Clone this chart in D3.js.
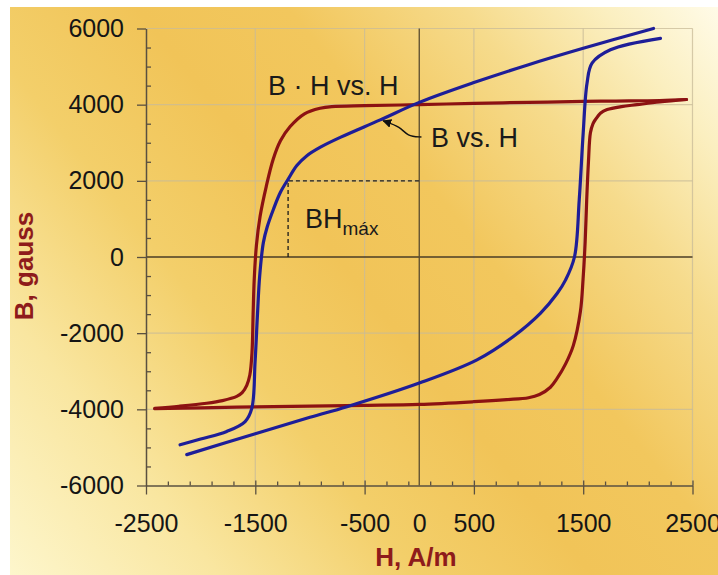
<!doctype html>
<html>
  <head>
    <meta charset="utf-8" />
    <title>B vs. H</title>
    <script src="https://cdn.jsdelivr.net/npm/d3@7"></script>
    <style>
      html,
      body {
        margin: 0;
        padding: 0;
        background: #fff;
        overflow: hidden;
      }
      text {
        font-family: "Liberation Sans", Arial, sans-serif;
      }
    </style>
  </head>
  <body>
    <script>
      // [H (A/m), B (gauss)]
      const redUpper = [
        [2445, 4135], [2200, 4110], [1800, 4095], [1500, 4085], [1000, 4060],
        [500, 4035], [0, 4000], [-500, 3975], [-800, 3950], [-907, 3905],
        [-1050, 3760], [-1181, 3425], [-1270, 3050], [-1337, 2560],
        [-1400, 1850], [-1456, 1070], [-1490, 300], [-1510, -600],
        [-1520, -1500], [-1530, -2500], [-1550, -3100], [-1578, -3370],
        [-1620, -3560], [-1670, -3660], [-1800, -3770], [-1945, -3840],
        [-2200, -3920], [-2420, -3975],
      ];
      const redLower = [
        [-2420, -3985], [-2000, -3960], [-1500, -3935], [-1000, -3915],
        [-500, -3895], [0, -3870], [500, -3800], [800, -3745], [1000, -3695],
        [1100, -3610], [1200, -3420], [1261, -3190], [1340, -2800],
        [1410, -2320], [1474, -1440], [1499, -575], [1518, 400], [1532, 1500],
        [1548, 2500], [1566, 3260], [1590, 3500], [1612, 3610], [1660, 3780],
        [1719, 3870], [1850, 3950], [1993, 4000], [2200, 4070], [2445, 4135],
      ];
      const blueUpper = [
        [2143, 6000], [1500, 5480], [1000, 5050], [500, 4580], [0, 4060],
        [-357, 3600], [-723, 3140], [-900, 2890], [-1028, 2660],
        [-1120, 2400], [-1196, 2060], [-1270, 1700], [-1334, 1255],
        [-1390, 800], [-1426, 384], [-1460, -500], [-1480, -1500],
        [-1502, -2750], [-1532, -3975], [-1593, -4320], [-1761, -4580],
        [-2000, -4780], [-2188, -4930],
      ];
      const blueLower = [
        [-2127, -5190], [-1500, -4640], [-1000, -4210], [-661, -3930],
        [0, -3310], [528, -2700], [864, -2080], [1108, -1480], [1261, -960],
        [1339, -600], [1420, 0], [1464, 1516], [1500, 3260], [1535, 4565],
        [1581, 5090], [1749, 5440], [2207, 5740],
      ];

      const yTicks = [-6000, -4000, -2000, 0, 2000, 4000, 6000];
      const yMinor = d3.range(-5500, 6000, 500).filter((v) => v % 2000 !== 0);
      const xLabels = [-2500, -1500, -500, 0, 500, 1500, 2500];
      const xMajor = [-2500, -1500, -500, 500, 1500, 2500];
      const xMinor = d3.range(-2300, 2500, 200).filter((v) => !xMajor.includes(v));
      const hGrid = [-4000, -2000, 2000, 4000, 6000];
      const vGrid = [-1500, -500, 500, 1500, 2500];

      // BH max corner and arrow for "B vs. H"
      const bhMax = [-1200, 2000];
      const arrowPath = [[20, 3150], [-110, 3170], [-170, 3420], [-330, 3575]];

      const width = 718;
      const height = 575;

      const x = d3.scaleLinear([-2500, 2500], [146, 692.5]);
      const y = d3.scaleLinear([-6000, 6000], [485.5, 28.5]);

      const svg = d3
        .select("body")
        .append("svg")
        .attr("width", width)
        .attr("height", height);

      // background
      const defs = svg.append("defs");
      const grad = defs
        .append("linearGradient")
        .attr("id", "bg")
        .attr("gradientUnits", "userSpaceOnUse")
        .attr("x1", 10)
        .attr("y1", 575)
        .attr("x2", 718)
        .attr("y2", 7);
      [
        [0, "#fdf6cc"],
        [0.18, "#f9e6a0"],
        [0.35, "#f3cf6a"],
        [0.5, "#f1c458"],
        [0.63, "#f2c75d"],
        [0.78, "#f6db8c"],
        [0.9, "#fbefc0"],
        [1, "#fffbe8"],
      ].forEach(([o, c]) => grad.append("stop").attr("offset", o).attr("stop-color", c));

      defs
        .append("marker")
        .attr("id", "arrowhead")
        .attr("viewBox", "0 0 10 10")
        .attr("refX", 9)
        .attr("refY", 5)
        .attr("markerWidth", 9)
        .attr("markerHeight", 9)
        .attr("markerUnits", "userSpaceOnUse")
        .attr("orient", "auto")
        .append("path")
        .attr("d", "M0,0 L10,5 L0,10 Z")
        .attr("fill", "#111");

      svg
        .append("rect")
        .attr("x", 10)
        .attr("y", 7)
        .attr("width", width - 10)
        .attr("height", height - 7)
        .attr("fill", "url(#bg)");

      // grid
      const grid = svg
        .append("g")
        .attr("stroke", "#c8bb98")
        .attr("stroke-opacity", 0.75)
        .attr("stroke-width", 1.2);
      grid
        .selectAll("line.h")
        .data(hGrid)
        .join("line")
        .attr("x1", x(-2500))
        .attr("x2", x(2500))
        .attr("y1", (d) => y(d))
        .attr("y2", (d) => y(d));
      grid
        .selectAll("line.v")
        .data(vGrid)
        .join("line")
        .attr("x1", (d) => x(d))
        .attr("x2", (d) => x(d))
        .attr("y1", y(-6000))
        .attr("y2", y(6000));

      // zero lines
      svg
        .append("line")
        .attr("x1", x(-2500))
        .attr("x2", x(2500))
        .attr("y1", y(0))
        .attr("y2", y(0))
        .attr("stroke", "#4a3d24")
        .attr("stroke-width", 1.3);
      svg
        .append("line")
        .attr("x1", x(0))
        .attr("x2", x(0))
        .attr("y1", y(-6000))
        .attr("y2", y(6000))
        .attr("stroke", "#5a4c30")
        .attr("stroke-width", 1.3);

      // axes
      const fmt = (d) => String(d);
      function styleAxis(g) {
        g.select(".domain").attr("stroke", "#5a5040").attr("stroke-width", 1.5);
        g.selectAll(".tick line").attr("stroke", "#5a5040").attr("stroke-width", 1.3);
        g.selectAll(".tick text")
          .attr("fill", "#151515")
          .attr("font-size", 25)
          .attr("font-family", '"Liberation Sans", Arial, sans-serif');
      }

      svg
        .append("g")
        .attr("transform", `translate(${x(-2500)},0)`)
        .call(
          d3.axisLeft(y).tickValues(yTicks).tickFormat(fmt)
            .tickSizeInner(9).tickSizeOuter(0).tickPadding(13)
        )
        .call(styleAxis);
      svg
        .append("g")
        .attr("transform", `translate(${x(-2500)},0)`)
        .call(d3.axisRight(y).tickValues(yMinor).tickSize(5).tickFormat(""))
        .call(styleAxis)
        .call((g) => g.select(".domain").remove());

      svg
        .append("g")
        .attr("transform", `translate(0,${y(-6000)})`)
        .call(
          d3.axisBottom(x).tickValues(xLabels).tickFormat(fmt)
            .tickSizeInner(9).tickSizeOuter(0).tickPadding(20)
        )
        .call(styleAxis)
        .call((g) => g.selectAll(".tick line").filter((d) => d === 0).remove());
      svg
        .append("g")
        .attr("transform", `translate(0,${y(-6000)})`)
        .call(d3.axisTop(x).tickValues(xMinor).tickSize(4).tickFormat(""))
        .call(styleAxis)
        .call((g) => g.select(".domain").remove());
      svg
        .append("g")
        .attr("transform", `translate(0,${y(-6000)})`)
        .call(d3.axisTop(x).tickValues(xMajor.slice(1)).tickSize(5).tickFormat(""))
        .call(styleAxis)
        .call((g) => g.select(".domain").remove());

      // BHmax dashed box
      svg
        .append("path")
        .attr("d", `M${x(bhMax[0])},${y(0)} V${y(bhMax[1])} H${x(0)}`)
        .attr("fill", "none")
        .attr("stroke", "#1a1a1a")
        .attr("stroke-width", 1.3)
        .attr("stroke-dasharray", "4,3");

      // curves
      const line = d3
        .line()
        .x((d) => x(d[0]))
        .y((d) => y(d[1]))
        .curve(d3.curveCatmullRom.alpha(0.5));

      const curves = [
        [redUpper, "#8c1212"],
        [redLower, "#8c1212"],
        [blueUpper, "#1e1e98"],
        [blueLower, "#1e1e98"],
      ];
      svg
        .append("g")
        .attr("fill", "none")
        .attr("stroke-width", 3.2)
        .attr("stroke-linecap", "round")
        .attr("stroke-linejoin", "round")
        .selectAll("path")
        .data(curves)
        .join("path")
        .attr("d", (d) => line(d[0]))
        .attr("stroke", (d) => d[1]);

      // arrow to B vs. H
      svg
        .append("path")
        .attr("d", d3.line().x((d) => x(d[0])).y((d) => y(d[1])).curve(d3.curveBasis)(arrowPath))
        .attr("fill", "none")
        .attr("stroke", "#111")
        .attr("stroke-width", 1.4)
        .attr("marker-end", "url(#arrowhead)");

      // annotations
      const notes = svg.append("g").attr("fill", "#1a1a1a").attr("font-size", 27);
      notes
        .append("text")
        .attr("x", x(-1383))
        .attr("y", y(4250))
        .attr("xml:space", "preserve")
        .text("B \u00b7 H vs. H");
      notes
        .append("text")
        .attr("x", x(107))
        .attr("y", y(2890))
        .text("B vs. H");
      const bh = notes.append("text").attr("x", x(-1045)).attr("y", y(760));
      bh.append("tspan").text("BH");
      bh.append("tspan").attr("font-size", 19).attr("dy", 7).text("máx");

      // axis titles
      svg
        .append("text")
        .attr("transform", `translate(33,266) rotate(-90)`)
        .attr("text-anchor", "middle")
        .attr("font-size", 26)
        .attr("font-weight", "bold")
        .attr("fill", "#8e1b1b")
        .text("B, gauss");
      svg
        .append("text")
        .attr("x", 416)
        .attr("y", 566)
        .attr("text-anchor", "middle")
        .attr("font-size", 26)
        .attr("font-weight", "bold")
        .attr("fill", "#8e1b1b")
        .text("H, A/m");
    </script>
  </body>
</html>
